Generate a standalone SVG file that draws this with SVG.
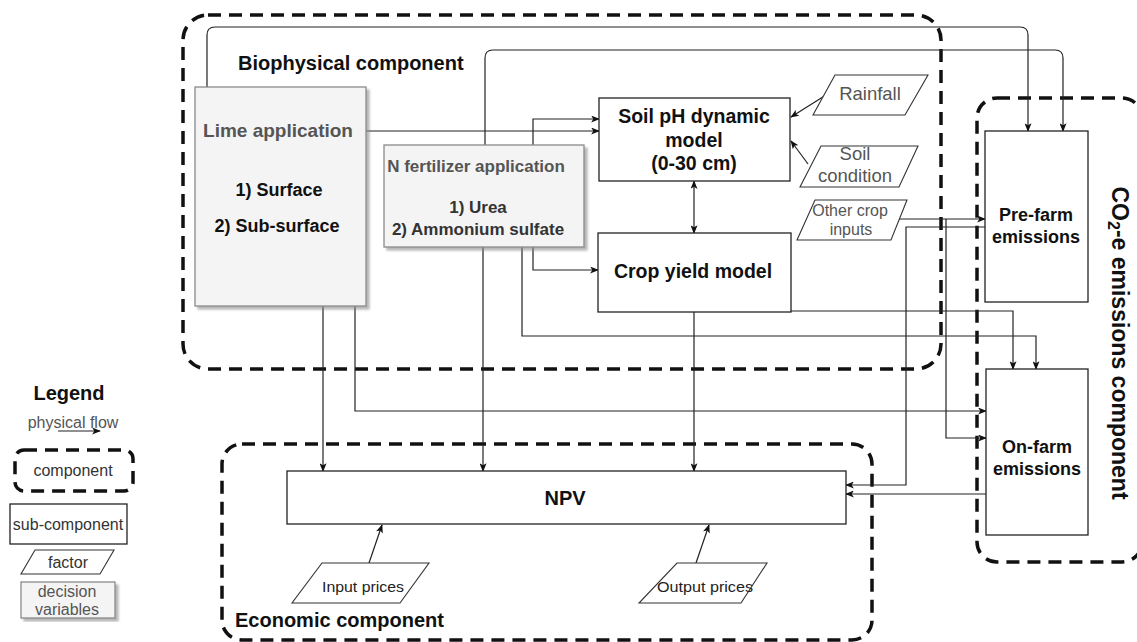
<svg xmlns="http://www.w3.org/2000/svg" width="1137" height="642" viewBox="0 0 1137 642">
<defs>
<marker id="arr" viewBox="0 0 10 8" refX="9" refY="4" markerWidth="9" markerHeight="7" markerUnits="userSpaceOnUse" orient="auto-start-reverse">
<path d="M0,0 L10,4 L0,8 L2.5,4 z" fill="#111"/>
</marker>
<filter id="sh" x="-5%" y="-5%" width="115%" height="115%">
<feDropShadow dx="3" dy="3" stdDeviation="1.2" flood-color="#888" flood-opacity="0.6"/>
</filter>
</defs>
<style>
text{font-family:"Liberation Sans",Arial,sans-serif;}
.comp{fill:none;stroke:#111;stroke-width:3.5;stroke-dasharray:13 8;}
.sub{fill:#fff;stroke:#222;stroke-width:1.3;}
.dec{fill:#f4f4f4;stroke:#8a8a8a;stroke-width:1.3;}
.fac{fill:#fff;stroke:#333;stroke-width:1.1;}
.c{fill:none;stroke:#222;stroke-width:1.2;}
.ca{fill:none;stroke:#222;stroke-width:1.2;marker-end:url(#arr);}
.t{text-anchor:middle;dominant-baseline:central;}
.b{font-weight:bold;fill:#111;}
.g{fill:#555;}
.gb{font-weight:bold;fill:#555;}
</style>

<g id="biophysical-component">
<rect class="comp" x="183" y="15" width="758" height="354" rx="25"/>
<text class="b" x="238" y="63" font-size="20" dominant-baseline="central">Biophysical component</text>
</g>
<g id="economic-component">
<rect class="comp" x="222" y="444" width="650" height="196" rx="20"/>
<text class="b" x="235" y="620" font-size="20" dominant-baseline="central">Economic component</text>
</g>
<g id="co2-component">
<rect class="comp" x="977" y="98" width="165" height="464" rx="20"/>
<text class="b" font-size="23" text-anchor="middle" dominant-baseline="central" transform="translate(1120,343) rotate(90)">CO<tspan font-size="16" dy="6">2</tspan><tspan dy="-6">-e emissions component</tspan></text>
</g>

<g id="connectors">
<path class="ca" d="M207,87 V35 Q207,27 215,27 H1020 Q1028,27 1028,35 V131"/>
<path class="ca" d="M485,145 V58 Q485,50 493,50 H1055 Q1063,50 1063,58 V131"/>
<path class="ca" d="M366,131 H599"/>
<path class="ca" d="M533,145 V119 H599"/>
<path class="ca" d="M533,247 V270 H598"/>
<path class="c" d="M694,181 V233" marker-start="url(#arr)" marker-end="url(#arr)"/>
<path class="ca" d="M826,95 L791,117"/>
<path class="ca" d="M808,164 L791,141"/>
<path class="ca" d="M894,219 H985"/>
<path class="ca" d="M946,219 V438 H986"/>
<path class="ca" d="M985,227 H906 V485 H846"/>
<path class="ca" d="M990,494 H846"/>
<path class="ca" d="M791,311 H1013 V369"/>
<path class="ca" d="M522,247 V336 H1036 V369"/>
<path class="ca" d="M355,306 V411 H986"/>
<path class="ca" d="M323,306 V471"/>
<path class="ca" d="M483,247 V471"/>
<path class="ca" d="M694,312 V471"/>
<path class="ca" d="M369,563 L382,525"/>
<path class="ca" d="M696,563 L709,525"/>
</g>

<g id="lime-application">
<rect class="dec" x="195" y="87" width="171" height="219" filter="url(#sh)"/>
<text class="t gb" x="278" y="130" font-size="19">Lime application</text>
<text class="t b" x="279" y="190" font-size="18">1) Surface</text>
<text class="t b" x="277" y="226" font-size="18">2) Sub-surface</text>
</g>
<g id="n-fertilizer-application">
<rect class="dec" x="384" y="145" width="200" height="102" filter="url(#sh)"/>
<text class="t gb" x="476" y="166" font-size="17">N fertilizer application</text>
<text class="t" x="478" y="207" font-size="17" font-weight="bold" fill="#333">1) Urea</text>
<text class="t" x="478" y="229" font-size="17" font-weight="bold" fill="#333">2) Ammonium sulfate</text>
</g>
<g id="soil-ph-model">
<rect class="sub" x="599" y="98" width="191" height="83"/>
<text class="t b" x="694" y="116" font-size="19.5">Soil pH dynamic</text>
<text class="t b" x="694" y="140" font-size="19.5">model</text>
<text class="t b" x="694" y="163" font-size="19.5">(0-30 cm)</text>
</g>
<g id="crop-yield-model">
<rect class="sub" x="598" y="233" width="193" height="79"/>
<text class="t b" x="693" y="271" font-size="19.5">Crop yield model</text>
</g>
<g id="rainfall">
<polygon class="fac" points="835,75 928,75 905,115 813,115"/>
<text class="t g" x="870" y="93" font-size="18.5">Rainfall</text>
</g>
<g id="soil-condition">
<polygon class="fac" points="821,146 918,146 899,187 800,187"/>
<text class="t g" x="855" y="153" font-size="18.5">Soil</text>
<text class="t g" x="855" y="175" font-size="18.5">condition</text>
</g>
<g id="other-crop-inputs">
<polygon class="fac" points="815,200 907,200 891,240 797,240"/>
<text class="t g" x="850" y="210" font-size="16">Other crop</text>
<text class="t g" x="851" y="229" font-size="16">inputs</text>
</g>
<g id="pre-farm-emissions">
<rect class="sub" x="985" y="131" width="103" height="171"/>
<text class="t b" x="1036" y="215" font-size="18" fill="#222">Pre-farm</text>
<text class="t b" x="1036" y="237" font-size="18" fill="#222">emissions</text>
</g>
<g id="on-farm-emissions">
<rect class="sub" x="986" y="369" width="102" height="166"/>
<text class="t b" x="1037" y="447" font-size="18" fill="#222">On-farm</text>
<text class="t b" x="1037" y="469" font-size="18" fill="#222">emissions</text>
</g>
<g id="npv">
<rect class="sub" x="287" y="471" width="559" height="53"/>
<text class="t b" x="565" y="498" font-size="20">NPV</text>
</g>
<g id="input-prices">
<polygon class="fac" points="322,563 429,563 400,603 292,603"/>
<text class="t" x="363" y="586" font-size="15" fill="#222" textLength="82" lengthAdjust="spacingAndGlyphs">Input prices</text>
</g>
<g id="output-prices">
<polygon class="fac" points="677,563 767,563 741,603 639,603"/>
<text class="t" x="705" y="586" font-size="15" fill="#222" textLength="96" lengthAdjust="spacingAndGlyphs">Output prices</text>
</g>

<g id="legend">
<text class="t b" x="69" y="393" font-size="20">Legend</text>
<text class="t g" x="73" y="422" font-size="16" fill="#444">physical flow</text>
<path class="ca" d="M58,431 H100"/>
<rect class="comp" x="15" y="450" width="118" height="41" rx="9"/>
<text class="t" x="73" y="470" font-size="16" fill="#333">component</text>
<rect class="sub" x="10" y="504" width="117" height="40"/>
<text class="t" x="68" y="524" font-size="16" fill="#333">sub-component</text>
<polygon class="fac" points="35,550 114,550 100,574 21,574"/>
<text class="t" x="68" y="562" font-size="16" fill="#333">factor</text>
<rect class="dec" x="21" y="582" width="94" height="36" filter="url(#sh)"/>
<text class="t g" x="67" y="591" font-size="16">decision</text>
<text class="t g" x="67" y="609" font-size="16">variables</text>
</g>
</svg>
